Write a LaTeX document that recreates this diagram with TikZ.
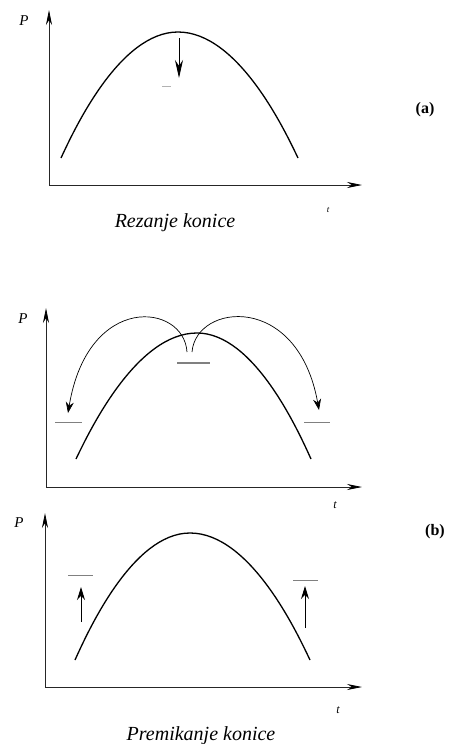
\documentclass[tikz,border=0pt]{standalone}
\usepackage{fontspec}
\setmainfont{Liberation Serif}
\usetikzlibrary{arrows.meta}
\begin{document}
\begin{tikzpicture}[x=1pt,y=-1pt,
  axis/.style={black!85,line width=0.8pt,-{Stealth[length=15pt,width=6pt,black]}},
  curve/.style={line width=1.3pt},
  bigarrow/.style={line width=0.9pt,-{Stealth[length=13pt,width=8pt]}},
  jump/.style={line width=0.7pt,-{Stealth[length=11pt,width=8pt]}},
  level/.style={gray,line width=1.2pt},
  lbl/.style={font=\itshape\fontsize{15}{17}\selectfont,inner sep=0pt},
  tsym/.style={font=\itshape\fontsize{12}{14}\selectfont,inner sep=0pt},
  tag/.style={font=\bfseries\fontsize{16}{18}\selectfont,inner sep=0pt},
  caption/.style={font=\itshape\fontsize{20}{22}\selectfont,inner sep=0pt,anchor=base}]
\useasboundingbox (0,0) rectangle (454,744);
% ---------- panel (a)
\coordinate (a0) at (49,185);
\coordinate (ay) at (49,10);
\coordinate (ax) at (362,185);
\draw[axis] (a0) -- (ay);
\draw[axis] (a0) -- (ax);
\coordinate (aL) at (61,158);
\coordinate (aT) at (178,32);
\coordinate (aR) at (298,158);
\draw[curve] (aL) parabola bend (aT) (aR);
\coordinate (aA1) at (179,38);
\coordinate (aA2) at (179,78);
\draw[line width=0.9pt,-{Stealth[length=18pt,width=8pt]}] (aA1) -- (aA2);
\coordinate (aD1) at (162,86);
\coordinate (aD2) at (171,86);
\draw[gray!60,line width=0.8pt] (aD1) -- (aD2);
\node[lbl] (aP) at (24,21) {P};
\node[tsym,font=\itshape\fontsize{9}{10}\selectfont] (at) at (328,210) {t};
\node[tag] (alab) at (425,110) {(a)};
\node[caption] (acap) at (175,227) {Rezanje konice};
% ---------- panel (b) top
\coordinate (b0) at (46,487);
\coordinate (by) at (46,308);
\coordinate (bx) at (362,487);
\draw[axis] (b0) -- (by);
\draw[axis] (b0) -- (bx);
\coordinate (bL) at (76,459);
\coordinate (bT) at (197,333);
\coordinate (bR) at (311,459);
\draw[curve] (bL) parabola bend (bT) (bR);
\coordinate (bM1) at (177,363);
\coordinate (bM2) at (210,363);
\draw[level,line width=1.5pt] (bM1) -- (bM2);
\coordinate (bs1) at (187,352);
\coordinate (be1) at (68,413);
\coordinate (bs2) at (192,352);
\coordinate (be2) at (319,410);
\draw[jump] (bs1) .. controls (184,303) and (88,292) .. (be1);
\draw[jump] (bs2) .. controls (196,303) and (298,292) .. (be2);
\coordinate (bl1) at (55,422);
\coordinate (bl2) at (82,422);
\coordinate (br1) at (304,422);
\coordinate (br2) at (330,422);
\draw[level,line width=0.9pt] (bl1) -- (bl2);
\draw[level,line width=0.9pt] (br1) -- (br2);
\node[lbl] (bP) at (23,319) {P};
\node[tsym] (bt) at (335,505) {t};
% ---------- panel (b) bottom
\coordinate (c0) at (45,687);
\coordinate (cy) at (45,513);
\coordinate (cx) at (362,687);
\draw[axis] (c0) -- (cy);
\draw[axis] (c0) -- (cx);
\coordinate (cL) at (75,660);
\coordinate (cT) at (190,533);
\coordinate (cR) at (310,660);
\draw[curve] (cL) parabola bend (cT) (cR);
\coordinate (cA1) at (81,622);
\coordinate (cA2) at (81,587);
\coordinate (cB1) at (305,628);
\coordinate (cB2) at (305,586);
\draw[bigarrow] (cA1) -- (cA2);
\draw[bigarrow] (cB1) -- (cB2);
\coordinate (cl1) at (68,575);
\coordinate (cl2) at (93,575);
\coordinate (cr1) at (293,580);
\coordinate (cr2) at (318,580);
\draw[level,line width=0.9pt] (cl1) -- (cl2);
\draw[level,line width=0.9pt] (cr1) -- (cr2);
\node[lbl] (cP) at (19,523) {P};
\node[tsym] (ct) at (338,710) {t};
\node[tag] (blab) at (435,532) {(b)};
\node[caption] (bcap) at (201,740) {Premikanje konice};
\end{tikzpicture}
\end{document}
